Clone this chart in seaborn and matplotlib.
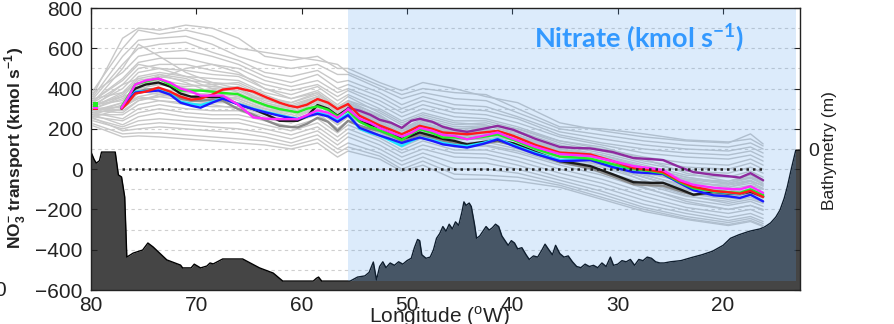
import numpy as np
import pandas as pd
import matplotlib
matplotlib.use("Agg")
import matplotlib.pyplot as plt
import seaborn as sns
from matplotlib.patches import Rectangle
from matplotlib.transforms import blended_transform_factory

sns.set_style("white")
plt.rcParams['font.family'] = ['Liberation Sans', 'DejaVu Sans']
plt.rcParams['mathtext.fontset'] = 'custom'
plt.rcParams['mathtext.rm'] = 'Liberation Sans'
plt.rcParams['mathtext.sf'] = 'Liberation Sans:bold'
plt.rcParams['mathtext.bf'] = 'Lato:bold'

# ---------------- data ----------------
# ensemble members (grey)
G_LON = [79.8, 77.0, 75.5, 73.5, 71.0, 68.5, 66.0, 63.5, 61.0, 58.5, 56.6, 55.6, 52.6,
         50.5, 48.5, 45.5, 42.5, 39.5, 35.5, 31.5, 27.5, 23.5, 19.5, 17.4, 16.2]
GRAY_LINES = [
    [370, 650, 700, 690, 715, 700, 650, 560, 540, 560, 500, 500, 430, 390, 430, 400, 360, 330, 230, 190, 160, 140, 130, 175, 125],
    [390, 600, 690, 670, 690, 660, 600, 580, 560, 540, 520, 480, 415, 370, 400, 380, 370, 300, 210, 200, 175, 145, 135, 150, 115],
    [360, 560, 640, 650, 660, 620, 560, 520, 500, 520, 470, 470, 400, 350, 380, 350, 340, 280, 200, 170, 140, 120, 110, 130, 100],
    [350, 520, 600, 620, 630, 580, 540, 480, 460, 490, 430, 440, 380, 320, 360, 320, 310, 260, 185, 150, 120, 100, 90, 110, 80],
    [380, 480, 560, 580, 590, 560, 520, 460, 430, 470, 400, 420, 360, 300, 340, 300, 290, 250, 170, 130, 100, 80, 70, 90, 60],
    [340, 450, 530, 550, 550, 520, 500, 440, 410, 440, 380, 400, 340, 280, 320, 280, 270, 230, 160, 120, 80, 60, 50, 70, 40],
    [330, 420, 500, 520, 520, 490, 470, 420, 390, 420, 360, 390, 320, 260, 300, 260, 250, 210, 140, 100, 60, 30, 20, 50, 20],
    [320, 400, 480, 500, 490, 470, 460, 400, 370, 410, 340, 370, 300, 240, 280, 240, 240, 200, 130, 90, 40, 10, 0, 30, 0],
    [310, 380, 460, 480, 460, 450, 440, 380, 350, 390, 320, 360, 280, 220, 260, 220, 230, 190, 120, 80, 30, -10, -20, 10, -20],
    [300, 360, 440, 460, 440, 430, 420, 360, 330, 380, 300, 340, 265, 200, 250, 210, 215, 180, 110, 70, 20, -30, -40, -10, -40],
    [320, 340, 420, 440, 420, 410, 400, 340, 310, 360, 290, 330, 250, 190, 240, 200, 200, 170, 100, 60, 0, -50, -60, -40, -60],
    [290, 330, 400, 420, 400, 390, 390, 330, 300, 350, 280, 310, 240, 180, 225, 185, 190, 160, 85, 50, -10, -70, -80, -60, -80],
    [300, 310, 380, 400, 380, 370, 370, 320, 290, 340, 260, 300, 225, 165, 210, 170, 180, 150, 75, 40, -25, -90, -100, -80, -100],
    [280, 300, 360, 380, 360, 350, 350, 300, 270, 320, 250, 290, 210, 150, 200, 160, 170, 140, 65, 25, -40, -105, -120, -100, -125],
    [290, 280, 340, 360, 340, 330, 330, 290, 260, 310, 230, 270, 200, 140, 185, 145, 150, 120, 50, 10, -55, -120, -140, -120, -145],
    [270, 270, 320, 340, 320, 310, 310, 270, 240, 290, 220, 260, 185, 125, 170, 130, 135, 100, 35, -10, -75, -135, -160, -140, -165],
    [280, 250, 300, 320, 300, 290, 290, 250, 230, 270, 200, 240, 170, 110, 155, 110, 115, 80, 20, -30, -95, -150, -180, -160, -185],
    [260, 240, 280, 300, 280, 270, 270, 240, 210, 250, 180, 220, 155, 95, 140, 95, 95, 60, 0, -50, -115, -170, -200, -180, -205],
    [270, 220, 260, 280, 260, 250, 250, 220, 190, 230, 160, 200, 140, 80, 120, 80, 75, 40, -20, -70, -135, -190, -220, -200, -225],
    [250, 210, 240, 250, 240, 230, 230, 200, 170, 210, 140, 180, 120, 60, 100, 60, 55, 20, -40, -90, -155, -205, -240, -220, -245],
    [240, 200, 220, 230, 220, 210, 200, 180, 150, 190, 120, 160, 100, 40, 80, 30, 30, 0, -55, -110, -175, -220, -255, -235, -260],
    [255, 190, 200, 210, 200, 190, 180, 160, 130, 170, 100, 130, 80, 20, 60, 0, 0, -20, -70, -125, -190, -235, -265, -245, -270],
    [225, 175, 180, 180, 170, 160, 150, 140, 115, 150, 80, 110, 65, 0, 40, -25, -30, -40, -80, -140, -200, -245, -275, -255, -280],
    [215, 160, 165, 160, 150, 140, 130, 120, 100, 130, 60, 90, 50, -10, 20, -50, -50, -60, -90, -150, -210, -250, -280, -260, -285],
    [330, 500, 620, 560, 480, 430, 400, 330, 300, 360, 280, 320, 260, 190, 230, 180, 190, 150, 80, 40, -20, -60, -90, -60, -100],
    [260, 300, 380, 450, 500, 520, 480, 400, 350, 380, 310, 340, 290, 230, 270, 230, 220, 170, 90, 30, -60, -130, -170, -150, -170],
    [300, 350, 400, 380, 340, 330, 360, 350, 330, 370, 300, 330, 270, 200, 240, 200, 210, 200, 140, 110, 50, -20, -60, -30, -60],
    [310, 420, 450, 430, 400, 380, 340, 290, 250, 300, 220, 260, 220, 170, 210, 170, 160, 110, 40, -20, -90, -160, -200, -180, -200],
    [280, 330, 410, 470, 450, 400, 360, 310, 280, 330, 260, 290, 230, 160, 200, 150, 150, 110, 60, 20, -40, -100, -130, -110, -140],
    [350, 380, 430, 420, 410, 420, 430, 370, 320, 360, 290, 320, 250, 190, 230, 190, 190, 160, 100, 70, 10, -40, -70, -40, -70],
    [320, 360, 390, 370, 350, 340, 330, 300, 280, 330, 260, 300, 240, 170, 215, 175, 175, 140, 70, 30, -30, -80, -110, -90, -115],
    [290, 310, 350, 360, 380, 400, 410, 350, 300, 340, 270, 300, 230, 170, 210, 160, 165, 140, 80, 50, -5, -55, -90, -70, -95],
    [340, 440, 520, 500, 460, 420, 380, 320, 280, 330, 250, 290, 230, 175, 215, 175, 180, 150, 90, 60, 10, -40, -70, -45, -75],
    [300, 290, 340, 370, 380, 370, 350, 300, 260, 300, 230, 270, 205, 145, 190, 150, 155, 125, 60, 20, -40, -95, -125, -105, -130],
    [270, 320, 360, 340, 330, 320, 300, 260, 230, 280, 200, 240, 180, 120, 160, 120, 120, 90, 30, -10, -70, -120, -150, -130, -155],
    [310, 370, 450, 470, 430, 380, 360, 320, 300, 340, 270, 310, 235, 175, 220, 180, 185, 155, 90, 60, 0, -50, -75, -55, -85],
]

# highlighted runs
F_LON = [77.1, 76.5, 75.8, 74.8, 73.6, 72.5, 71.5, 70.5, 69.6, 68.5, 67.5, 66.1, 64.6, 63.3,
         62.1, 61.2, 60.4, 59.5, 58.5, 57.5, 56.6, 55.6, 54.5, 53.5, 52.6, 51.5, 50.5, 49.6,
         48.8, 47.6, 46.6, 45.5, 44.3, 42.8, 41.4, 39.9, 37.8, 35.5, 34.0, 32.6, 30.5, 28.5,
         26.9, 25.7, 24.1, 22.8, 20.9, 19.5, 18.4, 17.4, 16.2]
N = np.nan
RED = [300, 330, 375, 385, 405, 385, 360, 345, 350, 370, 395, 403, 385, 355, 330, 315, 307, 320, 348, 330,
       298, 323, 265, 240, 217, 195, 173, 195, 215, 200, 182, 178, 173, 182, 190, 165, 120, 82, 78, 73,
       40, 5, -5, -15, -60, -88, -108, -115, -122, -108, -138]
GREEN = [310, 360, 420, 435, 450, 420, 390, 390, 390, 385, 378, 373, 340, 315, 298, 290, 282, 300, 312, 295,
         262, 290, 235, 210, 192, 170, 145, 175, 198, 180, 157, 158, 150, 160, 172, 145, 100, 62, 58, 52,
         25, 0, -10, -20, -65, -95, -110, -114, -118, -100, -128]
BLUE = [300, 340, 380, 385, 390, 370, 330, 315, 305, 330, 350, 323, 298, 280, 265, 255, 248, 262, 275, 262,
        235, 268, 205, 185, 167, 148, 130, 145, 157, 140, 123, 115, 107, 125, 148, 115, 75, 40, 42, 45,
        10, -15, -20, -25, -70, -105, -130, -135, -143, -127, -160]
CYAN = [305, 345, 385, 388, 395, 375, 335, 325, 318, 335, 352, 325, 300, 283, 268, 258, 250, 265, 280, 268,
        242, 275, 200, 180, 167, 140, 115, 140, 157, 145, 130, 120, 115, 130, 152, 120, 80, 45, 48, 50,
        15, 0, -5, -15, -60, -92, -112, -118, -125, -105, -135]
MAGENTA = [305, 355, 420, 440, 450, 430, 400, 385, 365, 365, 365, 323, 257, 250, 248, 248, 248, 268, 292, 280,
           255, 298, 250, 230, 205, 182, 162, 180, 205, 190, 170, 165, 148, 165, 182, 150, 110, 75, 70, 65,
           40, 15, 5, -5, -55, -78, -92, -98, -100, -85, -118]
BLACK = [305, 345, 400, 420, 430, 410, 375, 360, 360, 358, 357, 323, 298, 270, 240, 240, 240, 262, 318, 300,
         265, 300, 238, 220, 207, 180, 150, 165, 182, 165, 150, 140, 123, 135, 145, 128, 85, 40, 28, 15,
         -25, -65, -68, -68, -100, -127, -112, -120, -122, -112, -135]
DIMGRAY = [300, 330, 380, 395, 400, 380, 350, 340, 340, 345, 340, 300, 270, 240, 215, 210, 207, 225, 255, 235,
           190, 240, 215, 200, 190, 165, 140, 155, 170, 155, 140, 130, 118, 128, 138, 120, 78, 35, 20, 5,
           -35, -75, -80, -82, -108, -128, -118, -124, -125, -115, -138]
PURPLE = [N] * 21 + [305, 290, 270, 245, 230, 205, 240, 250, 235, 210, 195, 185, 200, 215, 195, 150, 110,
                     105, 103, 85, 55, 50, 45, 10, -15, -28, -35, -42, -20, -55]

SERIES = {"dimgray": DIMGRAY, "black": BLACK, "cyan": CYAN, "blue": BLUE, "green": GREEN,
          "purple": PURPLE, "red": RED, "magenta": MAGENTA}
PALETTE = {"dimgray": "#8a8a8a", "black": "#1a1a1a", "cyan": "#1ee6ff", "blue": "#1a1aff",
           "green": "#22ee22", "purple": "#8e2a9e", "red": "#ff1a1a", "magenta": "#ff2aff"}

# isolated first sample
FIRST_LON = 79.6
FIRST_VALS = {"red": 305, "magenta": 312, "green": 322}

# bathymetry (m)
B_LON = [80.0, 79.7, 79.5, 79.2, 79.0, 77.7, 77.4, 77.1, 76.8, 76.6, 76.0, 75.1, 74.6, 74.1, 72.8,
         71.5, 71.3, 70.5, 70.2, 69.6, 69.0, 68.7, 68.4, 67.5, 65.6, 64.0, 62.7, 61.8, 60.0, 58.9, 58.6,
         58.4, 58.1, 55.4, 54.7, 54.0, 53.6, 53.2, 52.9, 52.6, 52.3, 52.0, 51.6, 51.2, 50.8, 50.4, 50.0,
         49.6, 49.3, 49.0, 48.8, 48.6, 48.2, 47.8, 47.5, 47.2, 46.9, 46.6, 46.3, 46.0, 45.7, 45.4, 45.1,
         44.8, 44.6, 44.4, 44.1, 43.9, 43.6, 43.4, 43.1, 42.8, 42.5, 42.2, 41.9, 41.6, 41.3, 41.0, 40.7,
         40.4, 40.1, 39.8, 39.5, 39.1, 38.7, 38.4, 38.0, 37.6, 37.2, 36.9, 36.6, 36.2, 35.9, 35.5, 35.1,
         34.7, 34.3, 33.9, 33.5, 33.1, 32.7, 32.3, 31.9, 31.5, 31.1, 30.7, 30.4, 30.0, 29.6, 29.2, 28.8,
         28.4, 28.0, 27.6, 27.2, 26.8, 26.4, 26.0, 25.6, 25.0, 24.0, 23.0, 22.0, 21.0, 20.0, 19.3, 18.5,
         17.5, 16.5, 16.0, 15.5, 15.0, 14.6, 14.2, 13.9, 13.5, 13.1, 12.6]
B_DEPTH = [-130, -450, -600, -500, -130, -130, -1100, -1190, -2040, -4600, -4430, -4300, -4000, -4170, -4720,
           -4940, -5060, -5060, -4900, -5060, -4980, -4850, -4890, -4680, -4680, -5060, -5280, -5620, -5620, -5620, -5500,
           -5450, -5620, -5620, -5450, -5400, -5250, -4810, -5570, -5000, -4800, -5050, -4850, -4950, -4800, -4900, -4750,
           -4650, -4200, -3850, -3900, -4500, -4650, -4600, -4300, -3800, -3600, -3300, -3500, -3200, -3400, -3100, -3250,
           -2700, -2250, -2400, -2300, -2450, -3200, -3800, -3700, -3500, -3300, -3450, -3350, -3200, -3300, -3700, -3900,
           -4100, -3900, -4000, -4250, -4200, -4500, -4700, -4550, -4600, -4300, -4050, -4250, -4500, -4100, -4450, -4600,
           -4550, -4800, -5000, -5050, -4900, -5000, -4950, -5050, -4850, -5000, -4600, -4950, -4900, -4750, -4800, -4700,
           -4950, -4700, -4750, -4600, -4650, -4800, -4850, -4850, -4800, -4750, -4620, -4500, -4350, -4100, -3800, -3650,
           -3500, -3400, -3300, -3150, -2900, -2600, -2100, -1600, -800, -50, -50]

SHADE_LON = (55.6, 13.1)
Y_TICKS = [-600, -400, -200, 0, 200, 400, 600, 800]
X_TICKS = [80, 70, 60, 50, 40, 30, 20]

# ---------------- figure ----------------
fig = plt.figure(figsize=(8.94, 3.24), dpi=100)
ax = fig.add_axes([91 / 894, 1 - 290 / 324, 709 / 894, 282 / 324])
ax2 = ax.twinx()
ax.set_zorder(ax2.get_zorder() + 1)
ax.patch.set_visible(False)

ax.set_xlim(80, 12.7)
ax.set_ylim(-600, 800)
ax2.set_ylim(-6000, 6000)

# grid lines (behind bathymetry)
tr = blended_transform_factory(ax2.transAxes, ax.transData)
for g in range(-500, 800, 100):
    ax2.plot([0, 1], [g, g], transform=tr, color="#cfcfcf", lw=0.8, ls=(0, (3, 3)), zorder=0.5)

# bathymetry
ax2.fill_between(B_LON, B_DEPTH, -6000, color="#454545", lw=0, zorder=1)
sns.lineplot(x=B_LON, y=B_DEPTH, color="black", lw=1.0, ax=ax2, sort=False, estimator=None, zorder=2)

# ensemble
gray_df = pd.DataFrame([(m, lo, v) for m, line in enumerate(GRAY_LINES) for lo, v in zip(G_LON, line)],
                       columns=["member", "lon", "val"])
sns.lineplot(data=gray_df, x="lon", y="val", units="member", estimator=None, color="#c8c8c8",
             lw=1.0, ax=ax, sort=False, legend=False, zorder=1)

# shaded region
ax.add_patch(Rectangle((SHADE_LON[1], -555), SHADE_LON[0] - SHADE_LON[1], 1365,
                       facecolor="#509beb", alpha=0.2, lw=0, zorder=2))

# highlighted lines
col_df = pd.DataFrame([(k, lo, v) for k, vals in SERIES.items() for lo, v in zip(F_LON, vals)],
                      columns=["series", "lon", "val"]).dropna()
sns.lineplot(data=col_df, x="lon", y="val", hue="series", hue_order=list(SERIES.keys()),
             palette=PALETTE, estimator=None, lw=1.7, ax=ax, sort=False, legend=False, zorder=4)
first_df = pd.DataFrame({"series": list(FIRST_VALS.keys()), "lon": FIRST_LON,
                         "val": list(FIRST_VALS.values())})
sns.scatterplot(data=first_df, x="lon", y="val", hue="series", palette=PALETTE, marker="s",
                s=12, linewidth=0, ax=ax, legend=False, zorder=4)

# zero line
ax.plot([max(F_LON), min(F_LON)], [0, 0], color="#222222", lw=1.8, ls=(0, (1, 1.6)), zorder=5)

# title
ax.text(28.0, 655, r"Nitrate (kmol s$^{\mathbf{-1}}$)", color="#3399ff", fontsize=19.5,
        fontweight="bold", family="Lato", ha="center", va="center", zorder=6)

# axes styling
ax.set_xticks(X_TICKS)
ax.set_yticks(Y_TICKS)
ax.tick_params(axis="both", direction="in", length=4, width=0.8, colors="#222222",
               labelsize=15, top=True, right=True, labelright=False, pad=4)
ax.tick_params(axis="y", pad=6)
for s in ax.spines.values():
    s.set_color("#222222")
    s.set_linewidth(1.0)
    s.set_visible(True)
for s in ax2.spines.values():
    s.set_visible(False)

ax.set_xlabel(r"Longitude ($^{\mathrm{o}}$W)", fontsize=15, color="#222222")
ax.xaxis.set_label_coords(0.492, -0.05)
ax.set_ylabel(r"NO$_{\mathsf{3}}^{\mathsf{-}}$ transport (kmol s$^{\mathsf{-1}}$)",
              fontsize=12.5, fontweight="bold", color="#222222")
ax.yaxis.set_label_coords(-0.089, 0.504)

ax2.set_yticks([0])
ax2.set_yticklabels(["0"])
ax2.tick_params(axis="y", length=0, labelsize=14, colors="#222222", pad=6)
ax2.set_xlabel("")
ax2.set_ylabel("Bathymetry (m)", fontsize=12.5, color="#222222")
ax2.yaxis.set_label_coords(1.031, 0.496)

fig.text(0.0, 1 - 290 / 324, "0", fontsize=15, color="#222222", ha="center", va="center")

fig.savefig("out.png", dpi=100)
